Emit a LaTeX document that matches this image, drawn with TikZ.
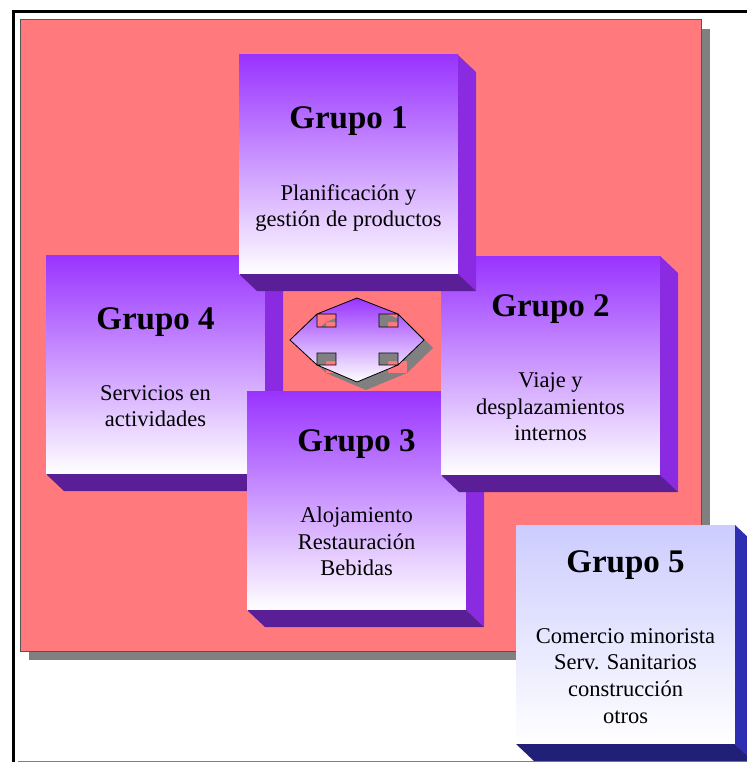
\documentclass[tikz,border=0pt]{standalone}
\usepackage{fontspec}
\setmainfont{Liberation Serif}
\definecolor{bgpink}{RGB}{255,121,125}
\definecolor{rimgray}{RGB}{85,85,85}
\definecolor{shadowgray}{RGB}{128,128,128}
\definecolor{facetop}{RGB}{153,51,255}
\definecolor{sidepurple}{RGB}{138,43,226}
\definecolor{bottompurple}{RGB}{90,30,150}
\definecolor{facetopblue}{RGB}{204,204,255}
\definecolor{sideblue}{RGB}{46,46,178}
\definecolor{bottomblue}{RGB}{32,32,120}
% centred lines whose baseline is the first line
\newcommand\linestack[1]{\vtop{\baselineskip=26.7pt\halign{\hfil##\hfil\cr#1\crcr}}}
% side and bottom faces of a block, depth (18,17)
\newcommand\blockfaces[3]{%
  \fill[#2] (#1.north east) -- ++(18,17) -- ([shift={(18,17)}]#1.south east) -- (#1.south east) -- cycle;
  \fill[#3] (#1.south west) -- (#1.south east) -- ([shift={(18,17)}]#1.south east) -- ([shift={(18,17)}]#1.south west) -- cycle;}
% pierced octagon of the central emblem
\newcommand\emblempath{%
  (357,298) -- (398,314) -- (424,340) -- (398,365) -- (357,382) -- (317,365) -- (290,340) -- (317,314) -- cycle
  (317,314) rectangle (336,327) (379,314) rectangle (398,327)
  (317,353) rectangle (336,365) (379,353) rectangle (398,365)}
\tikzset{
  face/.style={inner sep=0pt, outer sep=0pt, minimum width=219pt, minimum height=219pt, anchor=north west},
  violetface/.style={face, top color=facetop, bottom color=white},
  blueface/.style={face, top color=facetopblue, bottom color=white},
  title/.style={anchor=base, inner sep=0pt, font=\fontsize{33}{36}\selectfont\bfseries},
  body/.style={anchor=base, inner sep=0pt, font=\fontsize{22.5}{26.7}\selectfont},
}
\begin{document}
\begin{tikzpicture}[x=1pt, y=-1pt]
\useasboundingbox (0,0) rectangle (746,762);
\fill[white] (0,0) rectangle (746,762);
% page frame
\draw[line width=3pt] (13.5,765) -- (13.5,11.5) -- (748,11.5);
\draw[shadowgray, line width=1pt] (18,761) -- (748,761);
% pink panel with its drop shadow
\fill[shadowgray] (29,29) rectangle (710,660);
\draw[fill=bgpink, draw=rimgray, line width=1pt] (20,20) rectangle (701,651);

% central emblem: shadow, then the pierced octagon
\begin{scope}[shift={(9,8)}]
  \fill[shadowgray, even odd rule] \emblempath;
\end{scope}
\path[even odd rule, top color=facetop, bottom color=white] \emblempath;
\draw[line width=0.8pt] \emblempath;

% Grupo 4
\node[violetface] (g4) at (46,255) {};
\blockfaces{g4}{sidepurple}{bottompurple}
\node[title] (g4t) at ([yshift=-74pt]g4.north) {Grupo 4};
\node[body] (g4b) at ([yshift=-71pt]g4t.base) {\linestack{Servicios en\cr actividades}};

% Grupo 3
\node[violetface] (g3) at (247,391) {};
\blockfaces{g3}{sidepurple}{bottompurple}
\node[title] (g3t) at ([yshift=-60.5pt]g3.north) {Grupo 3};
\node[body] (g3b) at ([yshift=-71pt]g3t.base) {\linestack{Alojamiento\cr Restauración\cr Bebidas}};

% Grupo 2
\node[violetface] (g2) at (441,256) {};
\blockfaces{g2}{sidepurple}{bottompurple}
\node[title] (g2t) at ([yshift=-60.5pt]g2.north) {Grupo 2};
\node[body] (g2b) at ([yshift=-71pt]g2t.base) {\linestack{Viaje y\cr desplazamientos\cr internos}};

% Grupo 1
\node[violetface] (g1) at (239,55) {};
\blockfaces{g1}{sidepurple}{bottompurple}
\node[title] (g1t) at ([yshift=-74pt]g1.north) {Grupo 1};
\node[body] (g1b) at ([yshift=-71pt]g1t.base) {\linestack{Planificación y\cr gestión de productos}};

% Grupo 5
\node[blueface] (g5) at (516,525) {};
\blockfaces{g5}{sideblue}{bottomblue}
\node[title] (g5t) at ([yshift=-47pt]g5.north) {Grupo 5};
\node[body] (g5b) at ([yshift=-71pt]g5t.base) {\linestack{Comercio minorista\cr Serv. Sanitarios\cr construcción\cr otros}};
\end{tikzpicture}
\end{document}
